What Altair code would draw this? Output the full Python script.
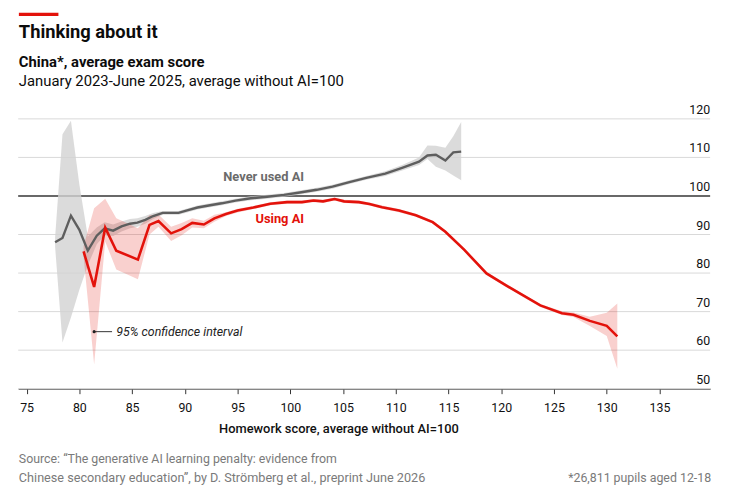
import altair as alt
import pandas as pd

# ---- data ----
x_never = [77.7, 78.4, 79.2, 80.0, 80.8, 81.65, 82.4, 83.2, 84.0, 84.8, 85.5, 86.25, 87.0, 87.9,
           89.4, 90.3, 91.2, 92.4, 93.5, 94.8, 96.25, 97.8, 99.4, 100.9, 102.5, 104.0, 105.6,
           107.2, 109.0, 110.6, 112.2, 113.0, 113.8, 114.7, 115.45, 116.2]
y_never = [88.0, 89.1, 94.9, 91.2, 85.8, 89.7, 91.6, 91.0, 92.1, 92.8, 93.1, 93.8, 94.8, 95.6,
           95.6, 96.3, 97.0, 97.6, 98.1, 98.8, 99.4, 99.8, 100.3, 100.9, 101.6, 102.4, 103.6,
           104.7, 105.8, 107.3, 108.9, 110.5, 110.7, 109.2, 111.3, 111.5]
lo_never = [86.8, 62.0, 68.5, 75.7, 82.0, 87.5, 89.8, 89.6, 90.8, 91.6, 92.0, 92.8, 94.0, 95.1,
            95.1, 95.8, 96.5, 97.1, 97.6, 98.3, 98.9, 99.3, 99.8, 100.4, 101.1, 101.9, 103.1,
            104.2, 105.2, 106.6, 108.0, 109.6, 107.6, 106.6, 105.3, 104.1]
hi_never = [89.2, 116.0, 119.5, 103.0, 89.5, 91.8, 93.2, 92.6, 93.4, 94.0, 94.2, 94.8, 95.6, 96.1,
            96.1, 96.8, 97.5, 98.1, 98.6, 99.3, 99.9, 100.3, 100.8, 101.4, 102.1, 102.9, 104.1,
            105.2, 106.4, 108.0, 110.0, 113.1, 113.0, 112.5, 115.5, 119.2]

x_using = [80.4, 81.4, 82.45, 83.5, 85.55, 86.65, 87.5, 88.7, 89.7, 90.7, 91.8, 92.8, 93.9, 95.0,
           96.5, 98.1, 99.7, 101.1, 102.2, 103.1, 104.2, 105.1, 106.5, 107.5, 108.7, 110.3,
           111.9, 113.5, 114.7, 116.5, 118.6, 120.45, 122.2, 123.7, 125.75, 126.85, 128.4,
           130.0, 131.0]
y_using = [85.6, 76.4, 91.8, 85.8, 83.5, 92.5, 93.5, 90.3, 91.4, 93.0, 92.6, 94.2, 95.3, 96.2,
           97.0, 98.0, 98.4, 98.4, 98.8, 98.6, 99.2, 98.6, 98.4, 97.9, 97.1, 96.2, 95.0, 93.2,
           90.7, 86.0, 79.9, 76.8, 74.0, 71.6, 69.6, 69.2, 67.6, 66.3, 63.6]
lo_using = [84.3, 56.3, 88.2, 80.9, 78.4, 90.0, 92.0, 88.3, 89.8, 91.8, 91.6, 93.3, 94.8, 95.7,
            96.6, 97.6, 98.0, 98.0, 98.4, 98.2, 98.8, 98.2, 98.0, 97.5, 96.7, 95.8, 94.6, 92.8,
            90.3, 85.6, 79.5, 76.4, 73.6, 71.2, 69.1, 68.6, 66.3, 63.7, 55.2]
hi_using = [87.0, 96.8, 99.3, 94.2, 91.6, 95.0, 95.2, 92.0, 93.0, 94.2, 93.6, 95.1, 95.8, 96.7,
            97.4, 98.4, 98.8, 98.8, 99.2, 99.0, 99.6, 99.0, 98.8, 98.3, 97.5, 96.6, 95.4, 93.6,
            91.1, 86.4, 80.3, 77.2, 74.4, 72.0, 70.1, 69.8, 68.7, 69.7, 72.1]

x_ticks = [75, 80, 85, 90, 95, 100, 105, 110, 115, 120, 125, 130, 135]
y_ticks = [50, 60, 70, 80, 90, 100, 110, 120]

series_labels = ["Never used AI", "Using AI"]
label_x = [101.3, 101.3]
label_y = [104.0, 92.9]
label_colors = ["#6b6b6b", "#e3120b"]

ci_note = "95% confidence interval"
ci_dot = (81.4, 64.8)
ci_line_end = 83.1
ci_text_x = 83.5
ci_text_y = 63.7

title = "Thinking about it"
subtitle1 = "China*, average exam score"
subtitle2 = "January 2023-June 2025, average without AI=100"
source1 = "Source: \u201cThe generative AI learning penalty: evidence from"
source2 = "Chinese secondary education\u201d, by D. Str\u00f6mberg et al., preprint June 2026"
footnote = "*26,811 pupils aged 12-18"
x_title = "Homework score, average without AI=100"

RED = "#e3120b"
GREY = "#5e5e5e"
FONT = "Roboto"

never = pd.DataFrame({"x": x_never, "y": y_never, "lo": lo_never, "hi": hi_never})
using = pd.DataFrame({"x": x_using, "y": y_using, "lo": lo_using, "hi": hi_using})
grid = pd.DataFrame({"v": y_ticks, "lab": [str(v) for v in y_ticks]})
labels = pd.DataFrame({"t": series_labels, "x": label_x, "y": label_y, "c": label_colors})

W, H = 700, 273
xs = alt.Scale(domain=[74.2, 139.8], nice=False, zero=False)
ys = alt.Scale(domain=[50, 120], nice=False, zero=False)

XAX = alt.Axis(
    values=x_ticks, title=x_title, grid=False, domainColor="#333", domainWidth=1,
    tickColor="#333", tickSize=5, labelFontSize=12.5, labelFont=FONT, labelColor="#111",
    labelPadding=8, titleFont=FONT, titleFontSize=13, titleFontWeight=500, titleColor="#111",
    titleX=324, titleY=44, titleAlign="center", titleBaseline="alphabetic")

X = lambda f="x": alt.X(f"{f}:Q", scale=xs, axis=XAX)
Y = lambda f="y": alt.Y(f"{f}:Q", scale=ys, axis=None)

gridlines = alt.Chart(grid).mark_rule(color="#d9d9d9", strokeWidth=1).encode(y=Y("v"))
hundred = alt.Chart(pd.DataFrame({"v": [100]})).mark_rule(color="#3c3c3c", strokeWidth=1.4).encode(y=Y("v"))
ylabels = alt.Chart(grid).mark_text(align="right", baseline="alphabetic", dy=-5, fontSize=12.5,
                                    font=FONT, color="#111").encode(
    y=Y("v"), x=alt.value(W), text="lab:N")

band_never = alt.Chart(never).mark_area(color="#d2d2d2", opacity=0.8).encode(x=X(), y=Y("lo"), y2="hi:Q")
band_using = alt.Chart(using).mark_area(color=RED, opacity=0.2).encode(x=X(), y=Y("lo"), y2="hi:Q")
line_never = alt.Chart(never).mark_line(color=GREY, strokeWidth=2.4).encode(x=X(), y=Y())
line_using = alt.Chart(using).mark_line(color=RED, strokeWidth=2.6).encode(x=X(), y=Y())

series_text = alt.Chart(labels).mark_text(align="right", baseline="alphabetic", fontSize=13,
                                          fontWeight="bold", font=FONT).encode(
    x=X(), y=Y(), text="t:N", color=alt.Color("c:N", scale=None))

note_df = pd.DataFrame({"x": [ci_dot[0]], "x2": [ci_line_end], "y": [ci_dot[1]]})
note_line = alt.Chart(note_df).mark_rule(color="#333", strokeWidth=1).encode(x=X(), x2="x2:Q", y=Y())
note_dot = alt.Chart(note_df).mark_point(filled=True, size=10, color="#222", opacity=1).encode(x=X(), y=Y())
note_text = alt.Chart(pd.DataFrame({"x": [ci_text_x], "y": [ci_text_y], "t": [ci_note]})).mark_text(
    align="left", baseline="alphabetic", fontSize=12.5, fontStyle="italic", font=FONT, color="#222").encode(
    x=X(), y=Y(), text="t:N")

def txt(s, x, y, size, weight="normal", color="#111", align="left"):
    return alt.Chart(pd.DataFrame({"t": [s]})).mark_text(
        align=align, baseline="alphabetic", fontSize=size, fontWeight=weight, font=FONT, color=color
    ).encode(text="t:N", x=alt.value(x), y=alt.value(y))

red_bar = alt.Chart(pd.DataFrame({"a": [0]})).mark_rect(color=RED).encode(
    x=alt.value(0.7), x2=alt.value(40.7), y=alt.value(-107.3), y2=alt.value(-104))

texts = [
    txt(title, 0.7, -81.3, 18.5, "bold", "#0c0c0c"),
    txt(subtitle1, 0.7, -52.3, 15, "bold", "#0c0c0c"),
    txt(subtitle2, 0.7, -33.6, 15, "normal", "#0c0c0c"),
    txt(source1, 0.7, 348.4, 12.5, "normal", "#7a7a7a"),
    txt(source2, 0.7, 367, 12.8, "normal", "#7a7a7a"),
    txt(footnote, 701, 367, 12.5, "normal", "#7a7a7a", "right"),
]

chart = alt.layer(
    gridlines, hundred, band_never, band_using, line_never, line_using, ylabels,
    series_text, note_line, note_dot, note_text, red_bar, *texts
).properties(
    width=W, height=H,
    padding={"left": 10.3, "top": 109.3, "right": 11, "bottom": 108},
    autosize=alt.AutoSizeParams(type="none"),
    background="white",
).configure_view(stroke=None)

chart.save("out.html", embed_options={"renderer": "svg", "actions": False})
